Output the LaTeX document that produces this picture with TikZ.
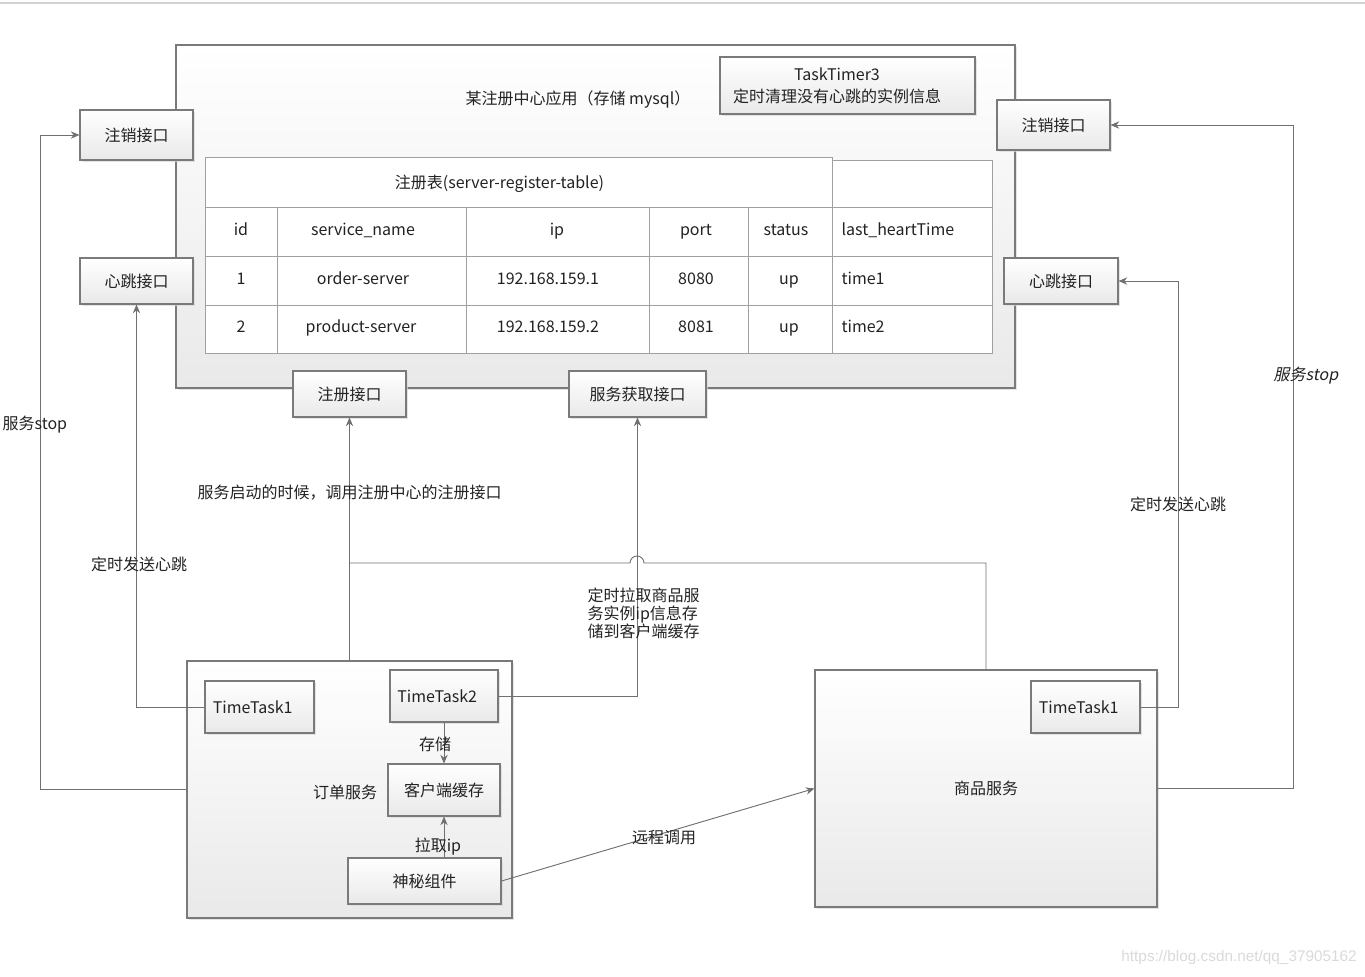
\documentclass[tikz,border=0pt]{standalone}
\usepackage{fontspec}
\setmainfont{Noto Sans CJK SC}
\newfontfamily\slantfont[FakeSlant=0.2]{Noto Sans CJK SC}
\newfontfamily\markfont{Liberation Sans}
\usepackage{xcolor}
\usepackage{tikz}
\usetikzlibrary{arrows.meta,shadows}
\definecolor{linegray}{HTML}{707070}
\definecolor{boxgray}{HTML}{7A7A7A}
\definecolor{boxfill}{HTML}{E9E9E9}
\definecolor{cellgray}{HTML}{A0A0A0}
\definecolor{textdark}{HTML}{222222}
\newcommand\diagfont{\fontsize{12}{14}\selectfont}

\begin{document}
\begin{tikzpicture}[
			x=0.75pt, y=-0.75pt,
			font=\diagfont,
			box/.style={rectangle, draw=boxgray, line width=0.8pt, top color=white, bottom color=boxfill, drop shadow={shadow xshift=1.5pt, shadow yshift=-1.5pt, fill=black!15, opacity=0.7}, inner sep=0pt, text=textdark},
			port/.style={box, minimum width=84.75pt, minimum height=34.5pt},
			task/.style={box, minimum width=81.75pt, minimum height=39pt, text width=70pt, align=left},
			cell/.style={draw=cellgray, fill=white, line width=0.6pt},
			celltext/.style={text=textdark, inner sep=1pt, text height=9pt, text depth=3pt},
			lbl/.style={text=textdark, inner sep=1pt},
			line/.style={draw=linegray, line width=0.7pt},
			arrow/.style={line, -{Stealth[length=6.5pt, width=5.5pt]}}
		]
		\useasboundingbox (0,0) rectangle (1365,976);
		\draw[gray!35, line width=0.8pt] (0,3) -- (1365,3);

		\node[box, minimum width=629.25pt, minimum height=257.25pt] (registry) at (595.5,216.5) {};
		\node[lbl] (registrytitle) at (578,100) {某注册中心应用（存储 mysql）};
		\node[box, minimum width=191.25pt, minimum height=42.75pt] (timer3) at (847.5,85.5) {};
		\node[lbl, align=center, font=\fontsize{12}{16.5}\selectfont] (timer3text) at (837,86) {TaskTimer3\\定时清理没有心跳的实例信息};

		\node[cell, minimum width=470.25pt, minimum height=37.5pt, inner sep=0pt] (tabletitle) at (518.5,182) {};
		\node[celltext] (tabletitletext) at (499.5,184) {注册表(server-register-table)};
		\node[cell, minimum width=120pt, minimum height=35.25pt, inner sep=0pt] (tableblank) at (912,183.5) {};
		\filldraw[cell] (205,207) rectangle (992,353);
		\foreach \x in {277,466,649,748,832}
			\draw[cell] (\x,207) -- (\x,353);
		\foreach \y in {256,305}
			\draw[cell] (205,\y) -- (992,\y);

		\foreach \x/\name/\txt in {241/id/id, 363/sname/service\_name, 557/ip/ip, 696/port/port, 786/status/status}
			\node[celltext] (head-\name) at (\x,231) {\txt};
		\node[celltext, anchor=west] (head-time) at (840,231) {last\_heartTime};
		\foreach \x/\name/\txt in {241/id/1, 363/sname/order-server, 548/ip/192.168.159.1, 696/port/8080, 789/status/up}
			\node[celltext] (one-\name) at (\x,280) {\txt};
		\node[celltext, anchor=west] (one-time) at (840,280) {time1};
		\foreach \x/\name/\txt in {241/id/2, 361/sname/product-server, 548/ip/192.168.159.2, 696/port/8081, 789/status/up}
			\node[celltext] (two-\name) at (\x,328) {\txt};
		\node[celltext, anchor=west] (two-time) at (840,328) {time2};

		\node[port, minimum height=37.5pt] (unregL) at (136.5,135) {注销接口};
		\node[port] (heartL) at (136.5,281) {心跳接口};
		\node[port, minimum height=37.5pt] (unregR) at (1053.5,125) {注销接口};
		\node[port, minimum width=85.5pt] (heartR) at (1061,281) {心跳接口};
		\node[port] (register) at (349.5,394) {注册接口};
		\node[port, minimum width=102.75pt] (fetch) at (637.5,394) {服务获取接口};

		\node[box, minimum width=243.75pt, minimum height=192.75pt] (order) at (349.5,789.5) {};
		\node[lbl] (ordername) at (345,792) {订单服务};
		\node[task] (ott1) at (259.5,707) {TimeTask1};
		\node[task, minimum width=81pt] (ott2) at (444,696) {TimeTask2};
		\node[box, minimum width=84pt, minimum height=39pt] (cache) at (444,790) {客户端缓存};
		\node[box, minimum width=114.75pt, minimum height=34.5pt] (secret) at (424.5,881) {神秘组件};

		\node[box, minimum width=256.5pt, minimum height=177.75pt] (product) at (986,788.5) {商品服务};
		\node[task] (ptt1) at (1085.5,707) {TimeTask1};

		\coordinate (joinreg) at (349.5,563);
		\draw[arrow] (order.west) -- ++(-146,0) |- (unregL);
		\draw[arrow] (ott1.west) -| (heartL.south);
		\draw[arrow] (order.north) -- (register.south);
		\draw[line] (product.north) |- (644,563) arc (0:-180:7) -- (joinreg);
		\draw[arrow] (ott2.east) -| (fetch.south);
		\draw[arrow] (ott2.south) -- (cache.north);
		\draw[arrow] (cache.south |- secret.north) -- (cache.south);
		\draw[arrow] (secret.east) -- (product.west);
		\draw[arrow] (ptt1.east) -- ++(38,0) |- (heartR);
		\draw[arrow] (product.east) -- ++(136,0) |- (unregR);

		\node[lbl, anchor=west] (stopL) at (1,425) {服务stop};
		\node[lbl] (beatL) at (139,564) {定时发送心跳};
		\node[lbl] (startlbl) at (349.5,493) {服务启动的时候，调用注册中心的注册接口};
		\node[lbl, align=left, anchor=west, font=\fontsize{12}{13.5}\selectfont] (pulllbl) at (586,613) {定时拉取商品服\\务实例ip信息存\\储到客户端缓存};
		\node[lbl] (rpclbl) at (664,838) {远程调用};
		\node[lbl] (storelbl) at (435,744) {存储};
		\node[lbl] (pulliplbl) at (438,847) {拉取ip};
		\node[lbl] (beatR) at (1178,504) {定时发送心跳};
		\node[lbl, font=\slantfont\diagfont] (stopR) at (1306,376) {服务stop};
		\node[text=gray!30, font=\markfont\fontsize{11.5}{13}\selectfont, anchor=east, inner sep=0pt] (watermark) at (1357,958) {https://blog.csdn.net/qq\_37905162};
	\end{tikzpicture}
\end{document}
